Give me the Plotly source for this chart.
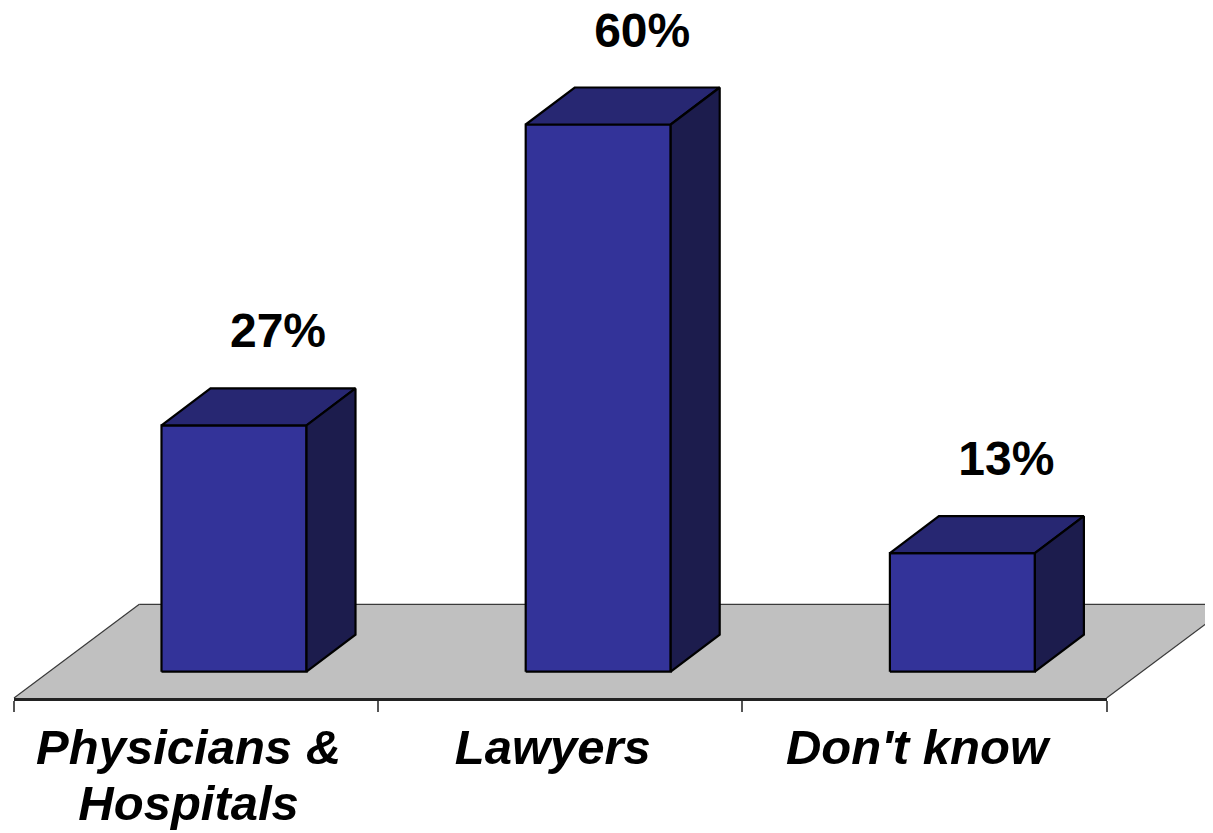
import plotly.graph_objects as go

# ---- data ----
categories = ["Physicians & Hospitals", "Lawyers", "Don't know"]
label_line1 = ["Physicians &", "Lawyers", "Don't know"]
label_line2 = ["Hospitals", "", ""]
values = [27, 60, 13]
value_labels = ["27%", "60%", "13%"]

# ---- style / geometry (pixel based projection, figure pixels) ----
W, H = 1213, 833
OFF = 8                    # page offset of the figure (body margin)
PX_PER_CAT = 364.2         # px per category slot
PX_PER_PCT = 9.12          # px per percentage point
X0_PX = 14 - OFF           # first category boundary
BASE_PX = 671.7 - OFF      # bar base (front)
AXIS_PX = 698 - OFF        # floor front edge / axis line
BACK_PX = 604.3 - OFF      # floor back edge

x_range = [-X0_PX / PX_PER_CAT, (W - X0_PX) / PX_PER_CAT]
y_range = [-(H - BASE_PX) / PX_PER_PCT, BASE_PX / PX_PER_PCT]

bar_left = 0.405
bar_width = 145 / PX_PER_CAT
dx = 49 / PX_PER_CAT
dy = 37 / PX_PER_PCT

floor_front = -(AXIS_PX - BASE_PX) / PX_PER_PCT
floor_back = (BASE_PX - BACK_PX) / PX_PER_PCT
floor_dx = 125.3 / PX_PER_CAT

FRONT = "#333399"
TOP = "#272772"
SIDE = "#1c1c4d"
FLOOR = "#c0c0c0"
FONT = "Arial, Liberation Sans, sans-serif"

fig = go.Figure()

n = len(categories)
# floor
fig.add_trace(go.Scatter(
    x=[0, n, n + floor_dx, floor_dx, 0],
    y=[floor_front, floor_front, floor_back, floor_back, floor_front],
    fill="toself", fillcolor=FLOOR, mode="lines",
    line=dict(color="rgba(0,0,0,0)", width=0),
    hoverinfo="skip", showlegend=False))
# floor edges (left, back, right)
fig.add_trace(go.Scatter(
    x=[0, floor_dx, None, floor_dx, n + floor_dx, None, n, n + floor_dx],
    y=[floor_front, floor_back, None, floor_back, floor_back, None, floor_front, floor_back],
    mode="lines", line=dict(color="#3a3a3a", width=1.2),
    hoverinfo="skip", showlegend=False))

for i, v in enumerate(values):
    x0 = i + bar_left
    x1 = x0 + bar_width
    faces = [
        ([x0, x1, x1, x0, x0], [0, 0, v, v, 0], FRONT),
        ([x0, x1, x1 + dx, x0 + dx, x0], [v, v, v + dy, v + dy, v], TOP),
        ([x1, x1 + dx, x1 + dx, x1, x1], [0, dy, v + dy, v, 0], SIDE),
    ]
    for fx, fy, col in faces:
        fig.add_trace(go.Scatter(
            x=fx, y=fy, fill="toself", fillcolor=col, mode="lines",
            line=dict(color="black", width=2.2),
            hoverinfo="skip", showlegend=False))

# value labels
label_x = [i + bar_left + bar_width / 2 + 44 / PX_PER_CAT for i in range(n)]
label_y = [v + 90 / PX_PER_PCT for v in values]
fig.add_trace(go.Scatter(
    x=label_x, y=label_y, mode="text", text=value_labels,
    textposition="middle center",
    textfont=dict(family=FONT, size=48, color="black", weight="bold"),
    hoverinfo="skip", showlegend=False, cliponaxis=False))

# category axis line with ticks at boundaries
fig.add_trace(go.Scatter(
    x=categories, y=[0] * n, xaxis="x2", yaxis="y2", mode="markers",
    marker=dict(opacity=0), hoverinfo="skip", showlegend=False))
# category label axes (two text lines)
cat_pos = [i + 0.5 - 7.5 / PX_PER_CAT for i in range(n)]
for ax in ("x3", "x4"):
    fig.add_trace(go.Scatter(
        x=cat_pos, y=[0] * n, xaxis=ax, yaxis="y2", mode="markers",
        marker=dict(opacity=0), hoverinfo="skip", showlegend=False))

label_font = dict(family=FONT, size=49, color="black", weight="bold", style="italic")

fig.update_layout(
    width=W, height=H,
    margin=dict(l=0, r=0, t=0, b=0),
    paper_bgcolor="white",
    plot_bgcolor="rgba(0,0,0,0)",
    showlegend=False,
    xaxis=dict(range=x_range, visible=False, domain=[0, 1], fixedrange=True),
    yaxis=dict(range=y_range, visible=False, domain=[0, 1], fixedrange=True),
    xaxis2=dict(
        type="category", categoryorder="array", categoryarray=categories,
        range=[-0.5, n - 0.5],
        domain=[X0_PX / W, (X0_PX + n * PX_PER_CAT) / W],
        anchor="y2", showline=True, linecolor="#222222", linewidth=2.5,
        ticks="outside", tickson="boundaries", ticklen=11, tickwidth=1.5,
        tickcolor="#555555", showgrid=False, zeroline=False,
        showticklabels=False, automargin=False, fixedrange=True),
    xaxis3=dict(
        range=x_range, domain=[0, 1], anchor="y2", showline=False,
        showgrid=False, zeroline=False, ticks="", tickmode="array",
        tickvals=cat_pos, ticktext=label_line1, tickfont=label_font,
        ticklabelstandoff=16, automargin=False, fixedrange=True),
    xaxis4=dict(
        range=x_range, domain=[0, 1], anchor="y2", showline=False,
        showgrid=False, zeroline=False, ticks="", tickmode="array",
        tickvals=cat_pos, ticktext=label_line2, tickfont=label_font,
        ticklabelstandoff=72, automargin=False, fixedrange=True),
    yaxis2=dict(domain=[(H - AXIS_PX) / H, 1], anchor="x2", visible=False,
                range=[0, 1], fixedrange=True),
)

fig.write_html("out.html")
